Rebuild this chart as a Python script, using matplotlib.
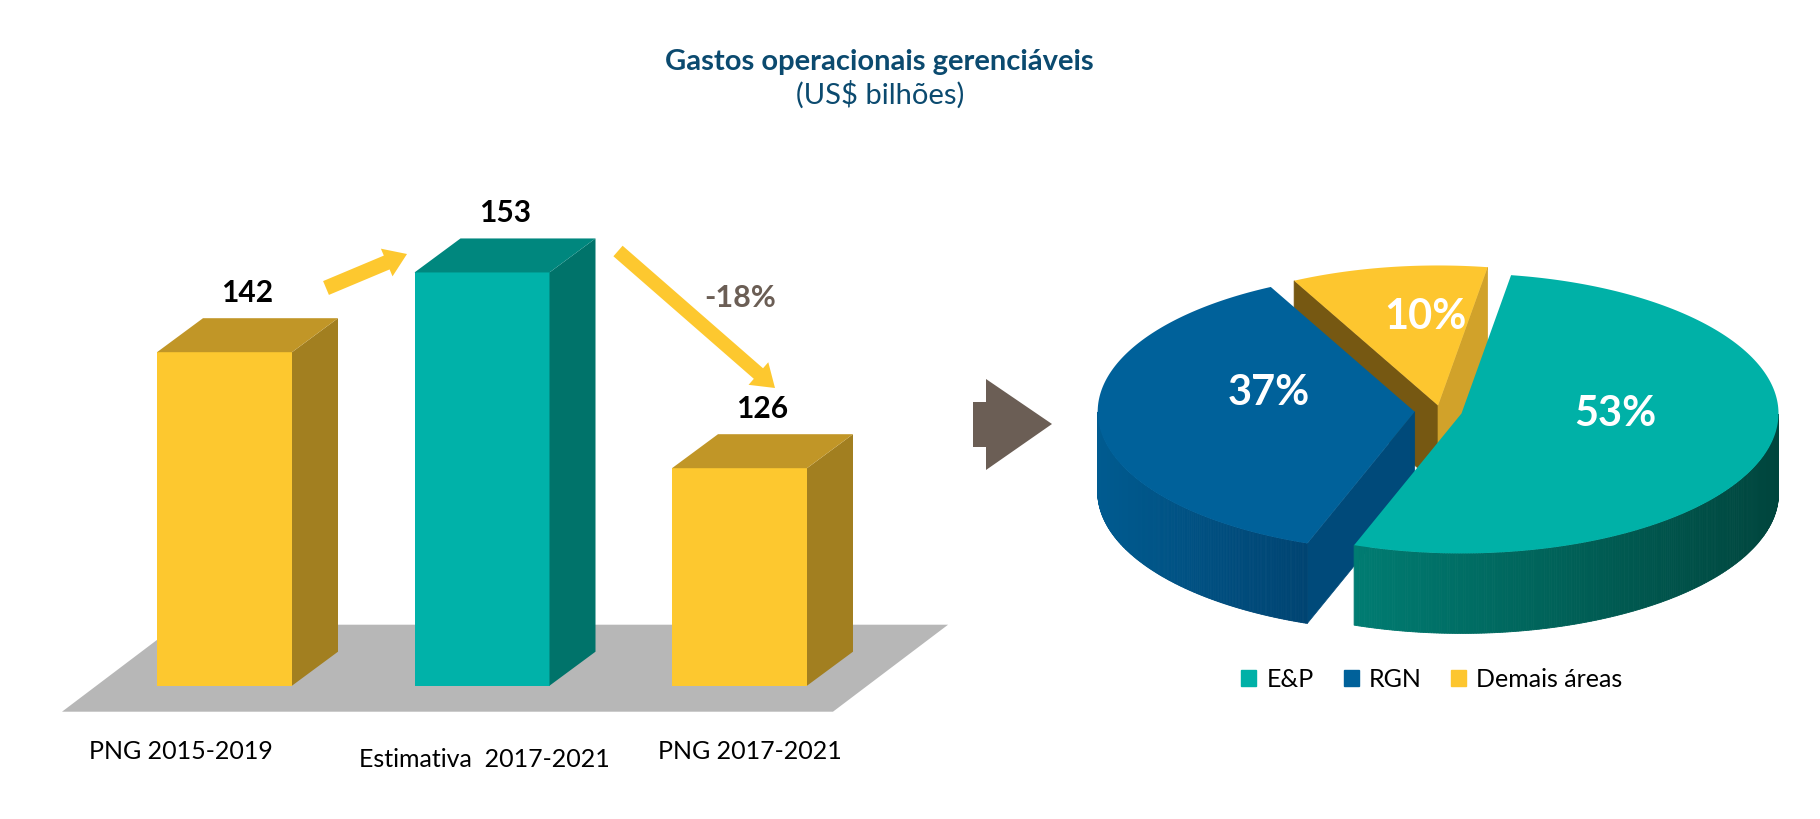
import numpy as np
import matplotlib.pyplot as plt
from matplotlib.colors import to_rgb
from matplotlib.patches import Polygon, FancyArrow, Patch

plt.rcParams['font.family'] = ['Lato', 'DejaVu Sans']

# --- data ---
categories = ['PNG 2015-2019', 'Estimativa  2017-2021', 'PNG 2017-2021']
values = [142, 153, 126]
bar_kind = ['yellow', 'teal', 'yellow']
change_label = '-18%'

pie_labels = ['E&P', 'RGN', 'Demais áreas']
pie_shares = [53, 37, 10]

W, H = 1820, 820
fig = plt.figure(figsize=(W / 100, H / 100), dpi=100)

# bar colours: front / top / side
front = {'yellow': '#fdc82f', 'teal': '#00b2a9'}
top = {'yellow': '#c19627', 'teal': '#00877e'}
side = {'yellow': '#a27f20', 'teal': '#00736a'}

# ---------------- 3D bars ----------------
ax = fig.add_axes([0, 0, 1000 / W, 1])
base = 96          # value at the floor line
k = 7.25           # px per value unit
px_x = 257.5       # px per category step
floor_px = 686.7   # bar bottoms, px from top
ax.set_xlim(-224.5 / px_x, (1000 - 224.5) / px_x)
ax.set_ylim(base - (H - floor_px) / k, base + floor_px / k)
ax.axis('off')

x = np.arange(len(values))
bw = 135 / px_x
dx, dy = 46 / px_x, 34 / k

# grey floor
floor = Polygon([(-0.631, base - 26 / k), (2.363, base - 26 / k),
                 (2.81, base + 61 / k), (-0.184, base + 61 / k)],
                closed=True, color='#b7b7b7', zorder=1, lw=0)
ax.add_patch(floor)

ax.bar(x, np.array(values) - base, bottom=base, width=bw,
       color=[front[c] for c in bar_kind], zorder=3, linewidth=0)
for xi, v, c in zip(x, values, bar_kind):
    r = xi + bw / 2
    ax.add_patch(Polygon([(r, base), (r + dx, base + dy), (r + dx, v + dy), (r, v)],
                         color=side[c], lw=0, zorder=3))
    ax.add_patch(Polygon([(xi - bw / 2, v), (r, v), (r + dx, v + dy), (xi - bw / 2 + dx, v + dy)],
                         color=top[c], lw=0, zorder=3))
    ax.annotate(str(v), xy=(xi + dx / 2, v + dy), xytext=(0, 19), textcoords='offset points',
                ha='center', va='center', fontsize=21.5, fontweight='bold', color='black')

label_shift = [-0.17, 0.01, 0.04]
label_drop = [752, 760, 752]
for xi, lab, s, py in zip(x, categories, label_shift, label_drop):
    ax.text(xi + s, base - (py - floor_px) / k, lab, ha='center', va='center',
            fontsize=18, color='black')

# ---------------- overlay in pixel units ----------------
ov = fig.add_axes([0, 0, 1, 1])
ov.set_xlim(0, W)
ov.set_ylim(H, 0)
ov.axis('off')
ov.patch.set_visible(False)

yel = '#fdc82f'
ov.add_patch(FancyArrow(326, 289, 407 - 326, 255 - 289, width=15, head_width=30,
                        head_length=22, length_includes_head=True, color=yel, lw=0))
ov.add_patch(FancyArrow(618, 252, 775 - 618, 389 - 252, width=14, head_width=30,
                        head_length=22, length_includes_head=True, color=yel, lw=0))
ov.text(740, 298, change_label, ha='center', va='center', fontsize=22,
        fontweight='bold', color='#6b5e55')

# chevron arrow
ov.add_patch(Polygon([(973, 403), (986, 403), (986, 380), (1052, 425), (986, 471),
                      (986, 448), (973, 448)], closed=True, color='#6b5e55', lw=0))

# ---------------- 3D pie ----------------
cx0, cy0 = 1440, 412
a, b, h = 317, 140, 80
start_angle = 81
explode = [0.07, 0.08, 0.04]
pie_top = ['#00b1a7', '#00619a', '#fdc62f']
wall_light = ['#007c72', '#005b90', '#c99a22']
wall_dark = ['#00453d', '#004472', '#8a6a16']
cut_ccw = ['#006860', '#004a7a', '#765812']   # face at counter-clockwise end
cut_cw = ['#006860', '#004a7a', '#d1a22a']    # face at clockwise end
lbl_r = [0.5, 0.5, 0.75]
lbl_off = [(0, -18), (12, -24), (25, 14)]


def pt(cx, cy, t):
    return cx + a * np.cos(np.radians(t)), cy - b * np.sin(np.radians(t))


fracs = np.array(pie_shares) / sum(pie_shares)
ends = start_angle - 360 * np.cumsum(fracs)
starts = np.concatenate([[start_angle], ends[:-1]])
slices = []
for i in range(len(fracs)):
    t1, t2 = ends[i], starts[i]        # t1 < t2 (ccw)
    mid = (t1 + t2) / 2
    cx = cx0 + explode[i] * a * np.cos(np.radians(mid))
    cy = cy0 - explode[i] * b * np.sin(np.radians(mid))
    slices.append((i, t1, t2, mid, cx, cy))

# draw back to front: by how far toward the viewer the slice sits
order = sorted(slices, key=lambda s: -np.sin(np.radians(s[3])))
for i, t1, t2, mid, cx, cy in order:
    # cut faces
    for te, nrm, col in ((t2, t2 + 90, cut_ccw[i]), (t1, t1 - 90, cut_cw[i])):
        if np.sin(np.radians(nrm)) < 0:
            ex, ey = pt(cx, cy, te)
            ov.add_patch(Polygon([(cx, cy), (ex, ey), (ex, ey + h), (cx, cy + h)],
                                 color=col, lw=0.5, zorder=2))
    # outer wall (front facing part) with horizontal shading
    ts = np.linspace(t1, t2, 400)
    vis = np.sin(np.radians(ts)) <= 1e-9
    if vis.any():
        xs, ys = pt(cx, cy, ts)
        xv = xs[vis]
        x_lo, x_hi = xv.min(), xv.max()
        c1, c2 = np.array(to_rgb(wall_light[i])), np.array(to_rgb(wall_dark[i]))
        for j in range(len(ts) - 1):
            if vis[j] and vis[j + 1]:
                f = ((xs[j] + xs[j + 1]) / 2 - x_lo) / max(x_hi - x_lo, 1)
                col = c1 + (c2 - c1) * f
                ov.add_patch(Polygon([(xs[j], ys[j]), (xs[j + 1], ys[j + 1]),
                                      (xs[j + 1], ys[j + 1] + h), (xs[j], ys[j] + h)],
                                     color=col, lw=0.6, zorder=2))
    # top face
    xs, ys = pt(cx, cy, np.linspace(t1, t2, 200))
    ov.add_patch(Polygon(np.column_stack([np.r_[cx, xs], np.r_[cy, ys]]),
                         color=pie_top[i], lw=0, zorder=2))
    lx = cx + lbl_r[i] * a * np.cos(np.radians(mid))
    ly = cy - lbl_r[i] * b * np.sin(np.radians(mid))
    ov.text(lx + lbl_off[i][0], ly + lbl_off[i][1], f'{pie_shares[i]}%', ha='center', va='center',
            fontsize=30, fontweight='bold', color='white', zorder=3)

# legend
handles = [Patch(color=c) for c in pie_top]
fig.legend(handles, pie_labels, loc='center', bbox_to_anchor=(1432 / W, 1 - 680 / H), ncol=3,
           frameon=False, fontsize=18, handlelength=0.6, handleheight=0.6,
           columnspacing=1.2, handletextpad=0.4)

# titles
fig.text(879 / W, 1 - 62 / H, 'Gastos operacionais gerenciáveis', ha='center', va='center',
         fontsize=21, fontweight='bold', color='#0b4a6f')
fig.text(880 / W, 1 - 95 / H, '(US$ bilhões)', ha='center', va='center',
         fontsize=21, color='#0b4a6f')

fig.savefig('out.png', dpi=100)
